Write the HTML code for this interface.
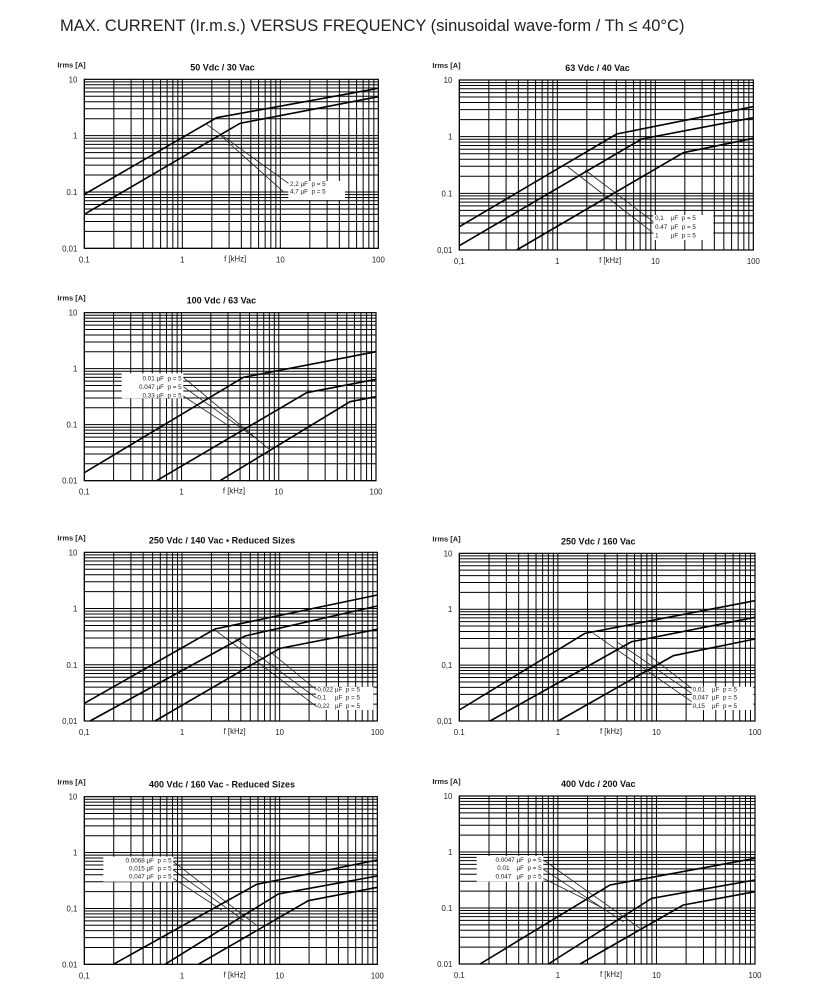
<!DOCTYPE html>
<html><head><meta charset="utf-8">
<style>
html,body{margin:0;padding:0;background:#fff;width:820px;height:986px;overflow:hidden}
svg{display:block}
text{font-family:"Liberation Sans",Arial,sans-serif}
</style></head><body>
<svg id="s" width="820" height="986" viewBox="0 0 820 986" xmlns="http://www.w3.org/2000/svg">
<text x="60" y="31" font-size="16.5" fill="#222">MAX. CURRENT (Ir.m.s.) VERSUS FREQUENCY (sinusoidal wave-form / Th ≤ 40°C)</text>
</svg>
<script>
var P=[
{o:[40,55],r:[133,73,1015,580],t:"50 Vdc / 30 Vac",yl:["10","1","0.1","0,01"],xl:["0.1","1","10","100"],
 s:[[[133,418],[530,188],[1015,100]],[[133,478],[600,205],[1015,125]]],
 l:[[[500,208],[745,385]],[[540,240],[730,410]]],
 b:[745,378,915,435],tx:[["2,2 µF  p = 5",750,393],["4,7 µF  p = 5",750,416]],al:"start"},
{o:[420,55],r:[118,75,1000,585],t:"63 Vdc / 40 Vac",yl:["10","1","0.1","0,01"],xl:["0,1","1","10","100"],
 s:[[[118,515],[590,237],[1000,155]],[[118,572],[665,252],[1000,188]],[[290,585],[790,293],[1000,250]]],
 l:[[[440,333],[695,530]],[[495,345],[700,500]]],
 b:[700,480,880,555],tx:[["0,1    µF  p = 5",705,495],["0.47  µF  p = 5",705,522],["1       µF  p = 5",705,548]],al:"start"},
{o:[40,290],r:[133,68,1008,572],t:"100 Vdc / 63 Vac",yl:["10","1","0.1","0.01"],xl:["0,1","1","10","100"],
 s:[[[133,548],[610,262],[1008,185]],[[350,572],[800,308],[1008,268]],[[540,572],[930,335],[1008,320]]],
 l:[[[430,262],[690,480]],[[430,290],[640,440]],[[430,318],[570,410]]],
 b:[245,250,430,325],tx:[["0.01 µF  p = 5",425,272],["0.047 µF  p = 5",425,297],["0,33 µF  p = 5",425,322]],al:"end"},
{o:[40,525],r:[133,82,1012,588],t:"250 Vdc / 140 Vac \u25AA Reduced Sizes",yl:["10","1","0.1","0,01"],xl:["0,1","1","10","100"],
 s:[[[133,535],[525,312],[1012,210]],[[150,588],[615,333],[1012,243]],[[345,588],[720,370],[1012,313]]],
 l:[[[525,315],[830,545]],[[585,340],[830,520]],[[690,380],[830,495]]],
 b:[828,485,1000,555],tx:[["0,022 µF  p = 5",832,499],["0,1     µF  p = 5",832,524],["0,22   µF  p = 5",832,549]],al:"start"},
{o:[420,525],r:[118,85,1005,588],t:"250 Vdc / 160 Vac",yl:["10","1","0,1","0,01"],xl:["0.1","1","10","100"],
 s:[[[118,555],[495,325],[1005,227]],[[210,588],[635,350],[1005,277]],[[415,588],[760,392],[1005,342]]],
 l:[[[520,325],[815,530]],[[590,350],[815,505]],[[680,385],[815,490]]],
 b:[815,485,1000,555],tx:[["0,01    µF  p = 5",818,499],["0,047  µF  p = 5",818,524],["0,15    µF  p = 5",818,549]],al:"start"},
{o:[40,770],r:[133,80,1012,583],t:"400 Vdc / 160 Vac - Reduced Sizes",yl:["10","1","0,1","0.01"],xl:["0,1","1","10","100"],
 s:[[[220,583],[650,343],[1012,270]],[[375,583],[715,372],[1012,318]],[[475,583],[805,392],[1012,352]]],
 l:[[[400,275],[655,470]],[[400,300],[610,450]],[[400,325],[545,420]]],
 b:[190,260,400,335],tx:[["0.0068 µF  p = 5",395,278],["0,015 µF  p = 5",395,302],["0,047 µF  p = 5",395,326]],al:"end"},
{o:[420,770],r:[118,78,1005,582],t:"400 Vdc / 200 Vac",yl:["10","1","0.1","0.01"],xl:["0.1","1","10","100"],
 s:[[[180,582],[570,345],[1005,265]],[[385,582],[695,385],[1005,330]],[[480,582],[790,405],[1005,365]]],
 l:[[[370,270],[660,475]],[[370,298],[610,455]],[[370,325],[540,410]]],
 b:[170,258,370,335],tx:[["0.0047 µF  p = 5",365,276],["0.01    µF  p = 5",365,300],["0.047   µF  p = 5",365,325]],al:"end"}
];
var h='';
P.forEach(function(p){
 var ox=p.o[0],oy=p.o[1];
 function X(z){return ox+z/3} function Y(z){return oy+z/3}
 var x0=X(p.r[0]),y0=Y(p.r[1]),x1=X(p.r[2]),y1=Y(p.r[3]),w=x1-x0,hh=y1-y0;
 var g='';
 for(var d=0;d<3;d++)for(var k=1;k<10;k++){
  var f=(d+Math.log10(k))/3;
  var xx=(x0+f*w).toFixed(2), yy=(y1-f*hh).toFixed(2);
  g+='M'+xx+' '+y0.toFixed(2)+'V'+y1.toFixed(2)+'M'+x0.toFixed(2)+' '+yy+'H'+x1.toFixed(2);
 }
 h+='<path d="'+g+'" stroke="#000" stroke-width="1" fill="none"/>';
 h+='<rect x="'+x0+'" y="'+y0+'" width="'+w+'" height="'+hh+'" fill="none" stroke="#000" stroke-width="1.2"/>';
 h+='<text x="'+(x0-27)+'" y="'+(y0-12)+'" font-size="7.5" font-weight="bold" fill="#222">Irms [A]</text>';
 h+='<text x="'+(x0+w*0.47)+'" y="'+(y0-9)+'" font-size="9" font-weight="bold" text-anchor="middle" fill="#111">'+p.t+'</text>';
 for(var i=0;i<4;i++){
  h+='<text x="'+(x0-7)+'" y="'+(y0+i*hh/3+3)+'" font-size="7.8" text-anchor="end" fill="#222">'+p.yl[i]+'</text>';
  h+='<text x="'+(x0+i*w/3)+'" y="'+(y1+14)+'" font-size="7.8" text-anchor="middle" fill="#222">'+p.xl[i]+'</text>';
 }
 h+='<text x="'+(x0+w*0.513)+'" y="'+(y1+13)+'" font-size="7.8" text-anchor="middle" fill="#222">f [kHz]</text>';
 var b=p.b;
 h+='<rect x="'+X(b[0])+'" y="'+Y(b[1])+'" width="'+(b[2]-b[0])/3+'" height="'+(b[3]-b[1])/3+'" fill="#fff"/>';
 p.tx.forEach(function(t){h+='<text x="'+X(t[1])+'" y="'+Y(t[2])+'" font-size="6.3" text-anchor="'+p.al+'" fill="#222" xml:space="preserve">'+t[0]+'</text>';});
 p.l.forEach(function(l){h+='<line x1="'+X(l[0][0])+'" y1="'+Y(l[0][1])+'" x2="'+X(l[1][0])+'" y2="'+Y(l[1][1])+'" stroke="#222" stroke-width="0.8"/>';});
 p.s.forEach(function(s){h+='<polyline points="'+s.map(function(q){return X(q[0]).toFixed(2)+','+Y(q[1]).toFixed(2)}).join(' ')+'" fill="none" stroke="#000" stroke-width="1.6"/>';});
});
document.getElementById('s').insertAdjacentHTML('beforeend',h);
</script>
</body></html>
